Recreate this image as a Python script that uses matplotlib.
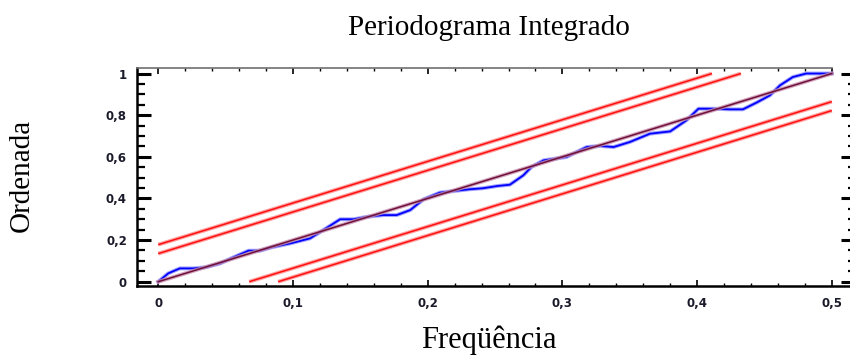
import matplotlib
matplotlib.use("Agg")
import matplotlib.pyplot as plt
from matplotlib.ticker import MultipleLocator, FuncFormatter
import numpy as np

# Integrated periodogram
freq = [0.0, 0.0074, 0.016, 0.026, 0.035, 0.046, 0.054, 0.067, 0.0755, 0.084,
        0.098, 0.1126, 0.1225, 0.135, 0.145, 0.155, 0.167, 0.177, 0.187, 0.197,
        0.209, 0.2215, 0.231, 0.241, 0.252, 0.261, 0.271, 0.277, 0.286, 0.303,
        0.318, 0.328, 0.338, 0.350, 0.365, 0.380, 0.392, 0.401, 0.412, 0.424,
        0.434, 0.444, 0.454, 0.4615, 0.471, 0.481, 0.494, 0.5]
ordinate = [0.0, 0.040, 0.064, 0.064, 0.069, 0.088, 0.112, 0.149, 0.149, 0.165,
            0.184, 0.208, 0.248, 0.300, 0.300, 0.312, 0.320, 0.320, 0.344, 0.396,
            0.428, 0.437, 0.444, 0.449, 0.460, 0.466, 0.511, 0.551, 0.583, 0.599,
            0.647, 0.652, 0.647, 0.671, 0.711, 0.722, 0.775, 0.831, 0.831, 0.828,
            0.828, 0.860, 0.895, 0.943, 0.983, 1.0, 1.0, 1.0]

# white-noise reference line and Kolmogorov-Smirnov bounds
freq_range = [0.0, 0.5]
cum_range = [0.0, 1.0]
ks_bounds = [0.135, 0.178]

x_ticks = [0, 0.1, 0.2, 0.3, 0.4, 0.5]
y_ticks = [0, 0.2, 0.4, 0.6, 0.8, 1.0]


def comma(v, pos=None):
    return f"{v:g}".replace(".", ",")


fig = plt.figure(figsize=(8.5, 3.55), dpi=100)
ax = fig.add_axes([0.1608, 0.1935, 1.0059 - 0.1608, 0.8093 - 0.1935])

slope = (cum_range[1] - cum_range[0]) / (freq_range[1] - freq_range[0])
for c in ks_bounds:
    xu = np.array([freq_range[0], (cum_range[1] - c) / slope])
    xl = np.array([c / slope, freq_range[1]])
    for xs, ys in [(xu, slope * xu + c), (xl, slope * xl - c)]:
        ax.plot(xs, ys, color="#ff8c8c", lw=2.8, alpha=0.8, solid_capstyle="butt")
        ax.plot(xs, ys, color="#ff1010", lw=1.1, solid_capstyle="butt")

ax.plot(freq, ordinate, color="#8c8cff", lw=2.8, alpha=0.8)
ax.plot(freq, ordinate, color="#0000ff", lw=1.3)

ax.plot(freq_range, cum_range, color="#c890b0", lw=2.8, alpha=0.8)
ax.plot(freq_range, cum_range, color="#701038", lw=1.1)

ax.set_xlim(-0.016, 0.5172)
ax.set_ylim(-0.022, 1.028)

ax.set_xticks(x_ticks)
ax.set_yticks(y_ticks)
ax.xaxis.set_minor_locator(MultipleLocator(0.02))
ax.yaxis.set_minor_locator(MultipleLocator(0.05))
ax.xaxis.set_major_formatter(FuncFormatter(comma))
ax.yaxis.set_major_formatter(FuncFormatter(comma))

ax.tick_params(axis="y", which="major", direction="in", length=10, width=2.2,
               left=True, right=True, labelsize=8.5, pad=7, labelcolor="#1a1a2a")
ax.tick_params(axis="y", which="minor", direction="in", length=5.4, width=1.6,
               left=True, right=True)
ax.tick_params(axis="x", which="major", direction="in", length=4, width=1.2,
               top=True, bottom=True, labelsize=8.5, pad=8, labelcolor="#1a1a2a")
ax.tick_params(axis="x", which="minor", direction="in", length=2.5, width=1.0,
               top=True, bottom=True)
for lbl in ax.get_xticklabels() + ax.get_yticklabels():
    lbl.set_fontweight("bold")

ax.spines["right"].set_visible(False)
ax.spines["top"].set_bounds(-0.016, 0.5)
ax.spines["top"].set_color("#707070")
ax.spines["top"].set_linewidth(1.2)
ax.spines["left"].set_linewidth(1.8)
ax.spines["bottom"].set_linewidth(1.8)

fig.text(489 / 850, 1 - 28 / 355, "Periodograma Integrado", family="Liberation Serif",
         fontsize=21, ha="center", va="center")
fig.text(22 / 850, 1 - 175 / 355, "Ordenada", family="Liberation Serif",
         fontsize=21, ha="center", va="center", rotation=90)
fig.text(489 / 850, 1 - 340 / 355, "Freqüência", family="Liberation Serif",
         fontsize=22, ha="center", va="center")

fig.savefig("out.png", dpi=100)
